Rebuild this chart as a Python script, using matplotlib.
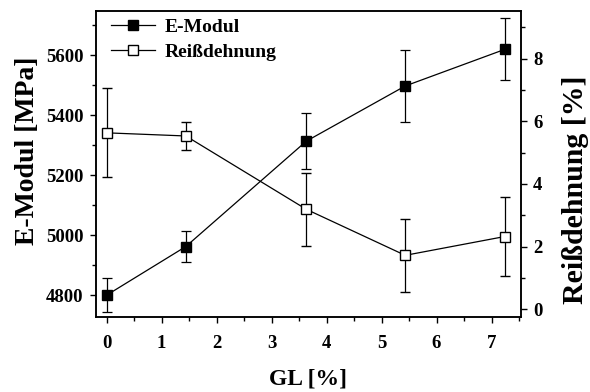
import matplotlib
matplotlib.use("Agg")
import matplotlib.pyplot as plt
from matplotlib.ticker import MultipleLocator
from matplotlib.lines import Line2D

plt.rcParams['font.family'] = ['Liberation Serif', 'DejaVu Serif']
plt.rcParams['font.weight'] = 'bold'

gl = [0.0, 1.44, 3.63, 5.43, 7.24]
emodul = [4800, 4962, 5313, 5497, 5619]
emodul_err = [56, 51, 93, 120, 103]
reiss = [5.63, 5.53, 3.19, 1.72, 2.32]
reiss_err = [1.42, 0.44, 1.17, 1.16, 1.27]

fig = plt.figure(figsize=(5.9, 3.92), dpi=100)
ax = fig.add_axes([0.1622, 0.192, 0.7203, 0.780])
ax2 = ax.twinx()

lw = 0.9
ax.errorbar(gl, emodul, yerr=emodul_err, color='black', marker='s', ms=7.5,
            mfc='black', mec='black', lw=lw, elinewidth=lw, capsize=3.6,
            capthick=lw)
ax2.errorbar(gl, reiss, yerr=reiss_err, color='black', marker='s', ms=7.5,
             mfc='white', mec='black', mew=1.0, lw=lw, elinewidth=lw, capsize=3.6,
             capthick=lw)

ax.set_xlim(-0.2, 7.53)
ax.set_ylim(4728, 5747)
ax2.set_ylim(-0.24, 9.52)

ax.xaxis.set_major_locator(MultipleLocator(1))
ax.xaxis.set_minor_locator(MultipleLocator(0.5))
ax.yaxis.set_major_locator(MultipleLocator(200))
ax.yaxis.set_minor_locator(MultipleLocator(100))
ax2.yaxis.set_major_locator(MultipleLocator(2))
ax2.yaxis.set_minor_locator(MultipleLocator(1))

for a in (ax, ax2):
    a.tick_params(which='major', direction='out', length=4, width=1.0, labelsize=13.5, pad=5)
    a.tick_params(which='minor', direction='out', length=3, width=1.0)
    for s in a.spines.values():
        s.set_linewidth(1.1)

ax.tick_params(axis='x', pad=9)
ax.set_xlabel('GL [%]', fontsize=17, fontweight='bold', labelpad=12)
ax.set_ylabel('E-Modul [MPa]', fontsize=20, fontweight='bold')
ax2.set_ylabel('Reißdehnung [%]', fontsize=21.5, fontweight='bold')
ax.yaxis.set_label_coords(-0.132, 0.542)
ax2.yaxis.set_label_coords(1.097, 0.415)

h1 = Line2D([], [], color='black', marker='s', ms=7.5, mfc='black', lw=lw)
h2 = Line2D([], [], color='black', marker='s', ms=7.5, mfc='white', mew=1.0, lw=lw)
ax2.legend([h1, h2], ['E-Modul', 'Reißdehnung'], loc='upper left', frameon=False,
           bbox_to_anchor=(0.024, 0.991), borderaxespad=0.0, borderpad=0.25,
           handlelength=2.27, handletextpad=0.5, labelspacing=0.35,
           prop={'weight': 'bold', 'size': 14})

fig.savefig('out.png', dpi=100)
